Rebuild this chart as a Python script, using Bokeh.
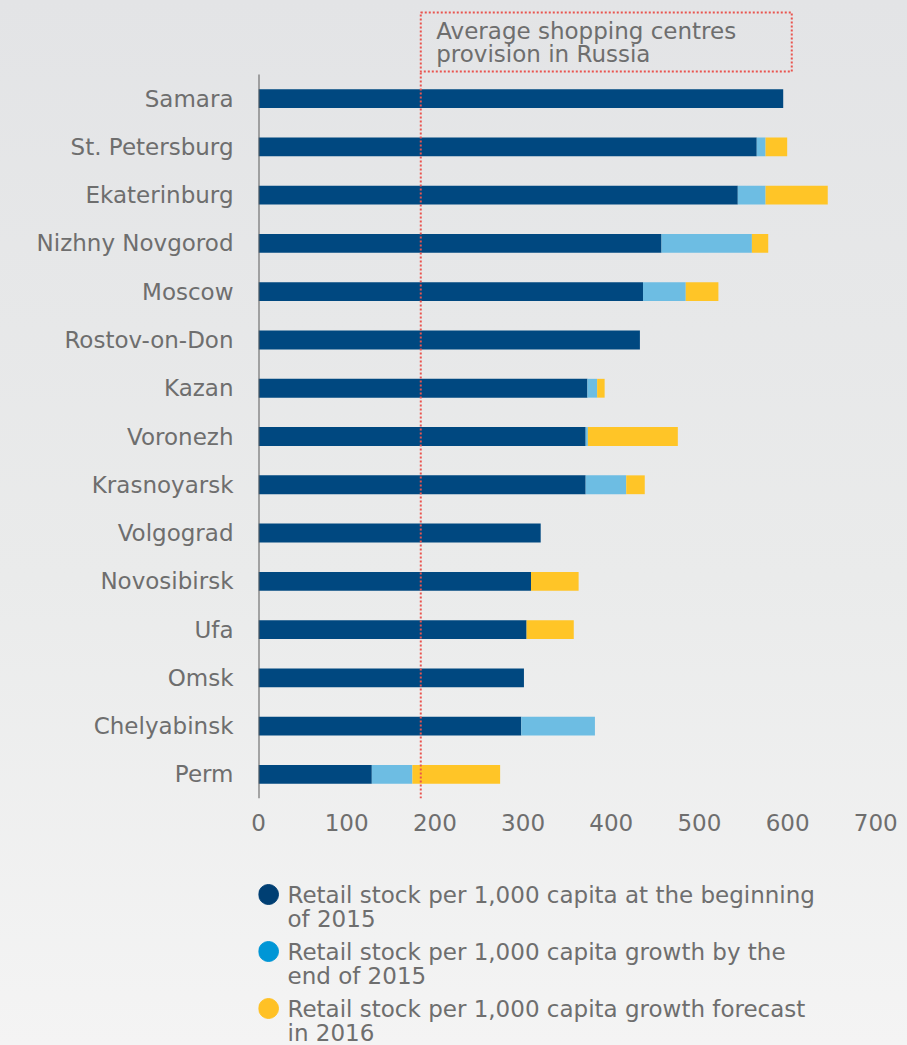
import textwrap
from bokeh.plotting import figure
from bokeh.models import ColumnDataSource, FixedTicker, Range1d
from bokeh.layouts import column
from bokeh.core.properties import value
from bokeh.embed import file_html
from bokeh.resources import INLINE

# ---------------- data ----------------
cities = ["Samara", "St. Petersburg", "Ekaterinburg", "Nizhny Novgorod", "Moscow",
          "Rostov-on-Don", "Kazan", "Voronezh", "Krasnoyarsk", "Volgograd",
          "Novosibirsk", "Ufa", "Omsk", "Chelyabinsk", "Perm"]
stock_2015_start = [595, 565, 543.5, 457, 436, 432.5, 373, 371, 371, 320, 309, 304, 301, 298, 128.5]
growth_2015_end = [0, 10, 31.5, 102.5, 48.5, 0, 11, 2.5, 46, 0, 0, 0, 0, 83.5, 46]
forecast_2016 = [0, 24.5, 70.5, 18.5, 37, 0, 8.5, 102, 21, 0, 54, 53.5, 0, 0, 99.5]
series_names = ["Retail stock per 1,000 capita at the beginning of 2015",
                "Retail stock per 1,000 capita growth by the end of 2015",
                "Retail stock per 1,000 capita growth forecast in 2016"]
russia_average = 184
average_label = "Average shopping centres provision in Russia"
x_ticks = [0, 100, 200, 300, 400, 500, 600, 700]

# ---------------- style ----------------
BAR_COLORS = ["#004880", "#6dbde3", "#ffc527"]
LEGEND_COLORS = ["#003f73", "#0096d6", "#ffc125"]
FONT = "DejaVu Sans"
FONT_SIZE = "23px"
TEXT_COLOR = "#6e6e6e"
RED = "#e9544f"

W, H = 907, 1045
MAIN_H = 850

n = len(cities)
ypos = [n - 1 - i for i in range(n)]

src = ColumnDataSource(dict(y=ypos, start=stock_2015_start,
                            growth=growth_2015_end, forecast=forecast_2016))

p = figure(width=W, height=MAIN_H, output_backend="svg", toolbar_location=None,
           x_range=Range1d(0, 728), y_range=Range1d(-0.5, 15.826),
           min_border_left=258, min_border_right=7, min_border_top=10, min_border_bottom=52)
p.background_fill_alpha = 0
p.border_fill_alpha = 0
p.outline_line_color = None
p.grid.visible = False

p.hbar_stack(["start", "growth", "forecast"], y="y", height=0.39,
             fill_color=BAR_COLORS, line_color=None, source=src)

# y axis line
p.segment(x0=[0], y0=[-0.5], x1=[0], y1=[14.5], line_color="#5a5a5a", line_width=2)

# average line + box
box_bottom, box_top, box_right = 14.562, 15.785, 604.7
p.segment(x0=[russia_average], y0=[-0.5], x1=[russia_average], y1=[box_bottom],
          line_color=RED, line_width=2, line_dash="2 2")
p.quad(left=[russia_average], right=[box_right], bottom=[box_bottom], top=[box_top],
       fill_color=None, line_color=RED, line_width=2, line_dash="2 2")
lines = textwrap.wrap(average_label, width=24)
p.text(x=[201.5] * len(lines), y=[15.391, 14.935][:len(lines)], text=lines,
       text_font=value(FONT), text_font_size=FONT_SIZE, text_color=TEXT_COLOR,
       text_baseline="middle", text_align="left")

# axes
p.yaxis.ticker = FixedTicker(ticks=ypos)
p.yaxis.major_label_overrides = {y: c for y, c in zip(ypos, cities)}
p.yaxis.axis_line_color = None
p.yaxis.major_tick_line_color = None
p.yaxis.minor_tick_line_color = None
p.yaxis.major_tick_out = 0
p.yaxis.major_label_standoff = 25
p.xaxis.ticker = FixedTicker(ticks=x_ticks)
p.xaxis.axis_line_color = None
p.xaxis.major_tick_line_color = None
p.xaxis.minor_tick_line_color = None
p.xaxis.major_tick_out = 0
p.xaxis.major_label_standoff = 15
for ax in (p.xaxis, p.yaxis):
    ax.major_label_text_font = FONT
    ax.major_label_text_font_size = FONT_SIZE
    ax.major_label_text_color = TEXT_COLOR

# ---------------- legend figure (pixel-unit ranges) ----------------
lf = figure(width=W, height=H - MAIN_H, output_backend="svg", toolbar_location=None,
            x_axis_type=None, y_axis_type=None,
            x_range=Range1d(258, 900), y_range=Range1d(H, MAIN_H),
            min_border_left=258, min_border_right=7, min_border_top=0, min_border_bottom=0)
lf.background_fill_alpha = 0
lf.border_fill_alpha = 0
lf.outline_line_color = None
lf.grid.visible = False

item_y = [894, 951, 1008]
lf.scatter(x=[268] * 3, y=item_y, size=20, color=LEGEND_COLORS)
tx, ty, tt = [], [], []
for yy, name in zip(item_y, series_names):
    for k, ln in enumerate(textwrap.wrap(name, width=46)):
        tx.append(287)
        ty.append(yy + 24 * k)
        tt.append(ln)
lf.text(x=tx, y=ty, text=tt, text_font=value(FONT), text_font_size=FONT_SIZE,
        text_color=TEXT_COLOR, text_baseline="middle", text_align="left")

layout = column(p, lf, spacing=0,
                styles={"background": "linear-gradient(to bottom, #e3e4e6 0%, #eaebeb 55%, #f4f4f4 100%)"})

open("out.html", "w").write(file_html(layout, INLINE))
